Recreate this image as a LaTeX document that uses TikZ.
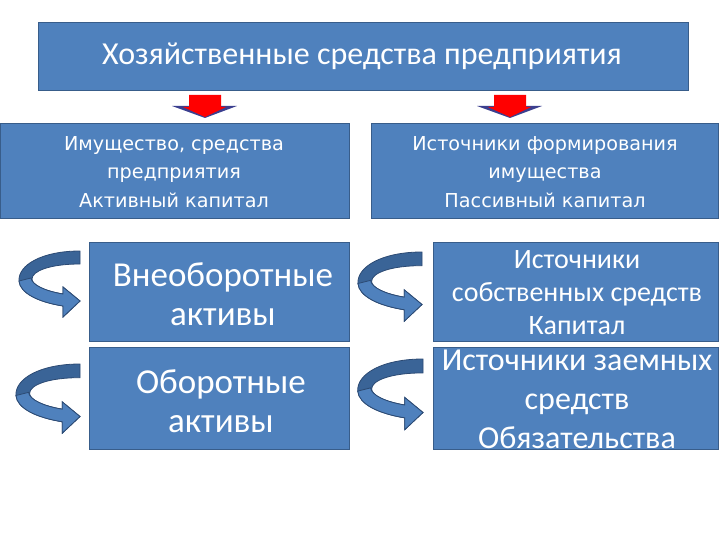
\documentclass[tikz,border=0pt]{standalone}
\usepackage{fontspec}
\setmainfont{Carlito}
\newfontfamily\dvfont{DejaVu Sans}
\definecolor{boxfill}{HTML}{4F81BD}
\definecolor{boxline}{HTML}{385D8A}
\definecolor{ribdark}{HTML}{3A6497}
\definecolor{ribline}{HTML}{2C4A73}
\definecolor{headnavy}{HTML}{3B3F8F}
\definecolor{arrred}{HTML}{FF0000}
\begin{document}
\begin{tikzpicture}[x=1pt,y=-1pt]
\useasboundingbox (0,0) rectangle (720,540);
\tikzset{
  blbox/.style={draw=boxline, line width=1.2pt, fill=boxfill, inner sep=0pt, anchor=north west},
  wtxt/.style={text=white, align=center, inner sep=0pt},
  curvarr/.pic={
    \filldraw[fill=ribdark, draw=ribline, line width=0.8pt]
      (0,0) .. controls (-38,0) and (-62,14) .. (-61,30)
      .. controls (-60,42) and (-42,51) .. (-17,55)
      -- (-17,66) -- (0,50) -- (-17,36) -- (-17,43)
      .. controls (-35,40) and (-48,34) .. (-48,28)
      .. controls (-48,20) and (-30,13) .. (0,13) -- cycle;
    \filldraw[fill=boxfill, draw=ribline, line width=0.8pt]
      (-61,30) .. controls (-60,42) and (-42,51) .. (-17,55)
      -- (-17,66) -- (0,50) -- (-17,36) -- (-17,43)
      .. controls (-35,40) and (-48,34) .. (-49,27) -- cycle;
  },
  redarr/.pic={
    \fill[headnavy] (-33,11) -- (32,11) -- (0,23) -- cycle;
    \fill[arrred] (-16,0) -- (16,0) -- (16,12) -- (21,12) -- (0,22) -- (-22,12) -- (-16,12) -- cycle;
  }
}
% boxes
\node[blbox, minimum width=650pt, minimum height=68pt] (top) at (38,22) {};
\node[wtxt, font=\fontsize{32}{36}\selectfont] (toptxt) at (362,56) {Хозяйственные средства предприятия};

\node[blbox, minimum width=349pt, minimum height=95pt] (ml) at (0,123) {};
\node[wtxt, font=\dvfont\fontsize{19.2}{28.5}\selectfont] (mltxt) at (174,172) {Имущество, средства\\предприятия\\Активный капитал};

\node[blbox, minimum width=347pt, minimum height=95pt] (mr) at (371,123) {};
\node[wtxt, font=\dvfont\fontsize{19.2}{28.5}\selectfont] (mrtxt) at (545,172) {Источники формирования\\имущества\\Пассивный капитал};

\node[blbox, minimum width=260pt, minimum height=99pt] (l1) at (89,242) {};
\node[wtxt, font=\fontsize{35}{39}\selectfont] (l1txt) at (223,294) {Внеоборотные\\активы};

\node[blbox, minimum width=260pt, minimum height=102pt] (l2) at (89,347) {};
\node[wtxt, font=\fontsize{35}{39}\selectfont] (l2txt) at (221,401) {Оборотные\\активы};

\node[blbox, minimum width=285pt, minimum height=99pt] (r1) at (433,242) {};
\node[wtxt, font=\fontsize{28}{33}\selectfont] (r1txt) at (577,293) {Источники\\собственных средств\\Капитал};

\node[blbox, minimum width=285pt, minimum height=102pt] (r2) at (433,347) {};
\node[wtxt, font=\fontsize{32}{39}\selectfont] (r2txt) at (577,399) {Источники заемных\\средств\\Обязательства};

% red arrows
\pic at (205,95) {redarr};
\pic at (510,95) {redarr};

% curved arrows
\pic at (80,251) {curvarr};
\pic[scale=1.05] at (80,364) {curvarr};
\pic[scale=1.05] at (422,252) {curvarr};
\pic[scale=1.07] at (423,359) {curvarr};
\end{tikzpicture}
\end{document}
